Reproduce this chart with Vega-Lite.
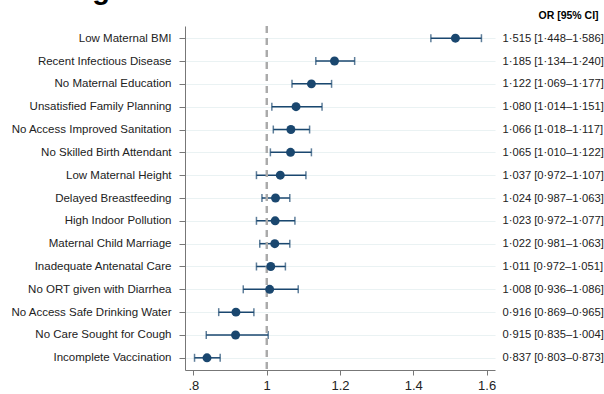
{
  "$schema": "https://vega.github.io/schema/vega-lite/v6.json",
  "width": 310,
  "height": 344,
  "autosize": "none",
  "padding": {"left": 185, "top": 26, "right": 109, "bottom": 24},
  "background": "white",
  "config": {"font": "Liberation Sans", "view": {"stroke": null}},
  "title": {"text": "Wasting", "anchor": "start", "fontSize": 29, "fontWeight": "bold", "color": "#000", "dx": -12, "dy": 18, "offset": 0, "baseline": "alphabetic"},
  "data": {"values": [
    {"factor": "Low Maternal BMI", "or": 1.515, "lo": 1.448, "hi": 1.586, "label": "1·515 [1·448–1·586]"},
    {"factor": "Recent Infectious Disease", "or": 1.185, "lo": 1.134, "hi": 1.240, "label": "1·185 [1·134–1·240]"},
    {"factor": "No Maternal Education", "or": 1.122, "lo": 1.069, "hi": 1.177, "label": "1·122 [1·069–1·177]"},
    {"factor": "Unsatisfied Family Planning", "or": 1.080, "lo": 1.014, "hi": 1.151, "label": "1·080 [1·014–1·151]"},
    {"factor": "No Access Improved Sanitation", "or": 1.066, "lo": 1.018, "hi": 1.117, "label": "1·066 [1·018–1·117]"},
    {"factor": "No Skilled Birth Attendant", "or": 1.065, "lo": 1.010, "hi": 1.122, "label": "1·065 [1·010–1·122]"},
    {"factor": "Low Maternal Height", "or": 1.037, "lo": 0.972, "hi": 1.107, "label": "1·037 [0·972–1·107]"},
    {"factor": "Delayed Breastfeeding", "or": 1.024, "lo": 0.987, "hi": 1.063, "label": "1·024 [0·987–1·063]"},
    {"factor": "High Indoor Pollution", "or": 1.023, "lo": 0.972, "hi": 1.077, "label": "1·023 [0·972–1·077]"},
    {"factor": "Maternal Child Marriage", "or": 1.022, "lo": 0.981, "hi": 1.063, "label": "1·022 [0·981–1·063]"},
    {"factor": "Inadequate Antenatal Care", "or": 1.011, "lo": 0.972, "hi": 1.051, "label": "1·011 [0·972–1·051]"},
    {"factor": "No ORT given with Diarrhea", "or": 1.008, "lo": 0.936, "hi": 1.086, "label": "1·008 [0·936–1·086]"},
    {"factor": "No Access Safe Drinking Water", "or": 0.916, "lo": 0.869, "hi": 0.965, "label": "0·916 [0·869–0·965]"},
    {"factor": "No Care Sought for Cough", "or": 0.915, "lo": 0.835, "hi": 1.004, "label": "0·915 [0·835–1·004]"},
    {"factor": "Incomplete Vaccination", "or": 0.837, "lo": 0.803, "hi": 0.873, "label": "0·837 [0·803–0·873]"}
  ]},
  "layer": [
    {
      "mark": {"type": "errorbar", "color": "#1a476f", "thickness": 1.5, "ticks": {"size": 8, "thickness": 1.5, "color": "#1a476f"}},
      "encoding": {
        "y": {"field": "factor", "type": "nominal", "sort": null,
              "scale": {"type": "point", "padding": 0.534},
              "axis": {"title": null, "orient": "left", "tickSize": 6, "labelPadding": 8, "labelFontSize": 11.5, "labelColor": "#222",
                       "domainColor": "#777", "tickColor": "#777", "grid": true, "gridColor": "#eaf2f3", "gridWidth": 1.2, "labelLimit": 300}},
        "x": {"field": "lo", "type": "quantitative",
              "scale": {"domain": [0.777, 1.623], "nice": false, "zero": false},
              "axis": {"title": null, "values": [0.8, 1, 1.2, 1.4, 1.6], "labelExpr": "datum.value == 0.8 ? '.8' : format(datum.value, '.1~f')",
                       "labelFontSize": 13, "labelColor": "#222", "tickSize": 5, "domainColor": "#777", "tickColor": "#777", "grid": false, "labelPadding": 4}},
        "x2": {"field": "hi"}
      }
    },
    {
      "mark": {"type": "rule", "color": "#aaa", "strokeDash": [7, 5], "strokeWidth": 1.5},
      "encoding": {"x": {"datum": 1}}
    },
    {
      "mark": {"type": "circle", "size": 80, "color": "#1a476f", "opacity": 1},
      "encoding": {
        "y": {"field": "label", "type": "nominal", "sort": null,
              "scale": {"type": "point", "padding": 0.534},
              "axis": {"orient": "right", "title": "OR [95% CI]", "titleAngle": 0, "titleAlign": "left", "titleBaseline": "middle",
                       "titleX": 43, "titleY": -11, "titleFontSize": 10.5, "titleFontWeight": "bold", "titleColor": "#000",
                       "ticks": false, "domain": false, "grid": false, "labelPadding": 7, "labelFontSize": 11.2, "labelColor": "#222", "labelLimit": 300}},
        "x": {"field": "or", "type": "quantitative"}
      }
    }
  ],
  "resolve": {"scale": {"y": "independent"}, "axis": {"y": "independent"}}
}
